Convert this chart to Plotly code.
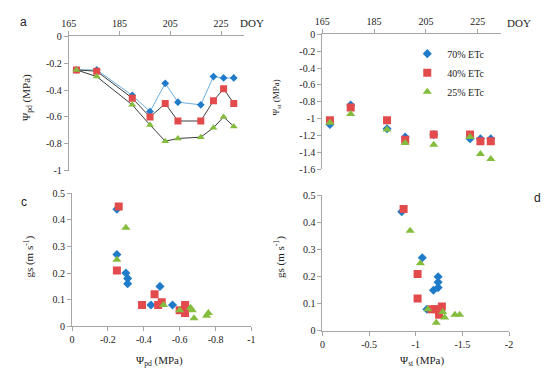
import plotly.graph_objects as go

# ---------------- data ----------------
doy_a = [168, 176, 190, 197, 203, 208, 217, 222, 226, 230]
psi_pd_70 = [-0.25, -0.25, -0.44, -0.56, -0.35, -0.49, -0.51, -0.30, -0.31, -0.31]
psi_pd_40 = [-0.25, -0.26, -0.46, -0.60, -0.50, -0.63, -0.63, -0.48, -0.39, -0.50]
psi_pd_25 = [-0.25, -0.30, -0.51, -0.66, -0.78, -0.76, -0.75, -0.68, -0.60, -0.67]

doy_b = [168, 176, 190, 197, 208, 222, 226, 230]
psi_st_70 = [-1.07, -0.84, -1.12, -1.22, -1.19, -1.24, -1.24, -1.24]
psi_st_40 = [-1.02, -0.87, -1.02, -1.25, -1.19, -1.19, -1.27, -1.27]
psi_st_25 = [-1.05, -0.945, -1.13, -1.29, -1.31, -1.22, -1.42, -1.48]

c_70_x = [-0.25, -0.25, -0.44, -0.56, -0.49, -0.30, -0.31, -0.31]
c_70_y = [0.27, 0.44, 0.08, 0.08, 0.15, 0.20, 0.18, 0.16]
c_40_x = [-0.25, -0.26, -0.46, -0.60, -0.63, -0.63, -0.48, -0.39, -0.50]
c_40_y = [0.21, 0.45, 0.12, 0.06, 0.08, 0.05, 0.08, 0.08, 0.09]
c_25_x = [-0.25, -0.30, -0.51, -0.66, -0.76, -0.75, -0.68, -0.60, -0.67]
c_25_y = [0.25, 0.37, 0.08, 0.07, 0.05, 0.04, 0.03, 0.06, 0.06]

d_70_x = [-1.07, -0.85, -1.12, -1.22, -1.19, -1.24, -1.24, -1.24]
d_70_y = [0.27, 0.44, 0.08, 0.08, 0.15, 0.20, 0.18, 0.16]
d_40_x = [-1.02, -0.87, -1.02, -1.25, -1.17, -1.21, -1.27, -1.28]
d_40_y = [0.21, 0.45, 0.12, 0.06, 0.08, 0.08, 0.08, 0.09]
d_25_x = [-1.05, -0.94, -1.13, -1.29, -1.31, -1.22, -1.42, -1.47]
d_25_y = [0.25, 0.37, 0.08, 0.07, 0.05, 0.03, 0.06, 0.06]

series_names = ["70% ETc", "40% ETc", "25% ETc"]
doy_ticks = [165, 185, 205, 225]
a_yticks = [0, -0.2, -0.4, -0.6, -0.8, -1]
b_yticks = [0, -0.2, -0.4, -0.6, -0.8, -1, -1.2, -1.4, -1.6]
c_xticks = [0, -0.2, -0.4, -0.6, -0.8, -1]
d_xticks = [0, -0.5, -1, -1.5, -2]
gs_ticks = [0, 0.1, 0.2, 0.3, 0.4, 0.5]

# ---------------- style ----------------
W, H = 550, 372
BLUE, RED, GREEN = "#1f7ac9", "#e34a4c", "#84bd3e"
LINE_BLUE, LINE_DARK = "#6aaee0", "#3c3c3c"
SERIF = "Liberation Serif, Times New Roman, DejaVu Serif, serif"
SANS = "Liberation Sans, Arial, sans-serif"
AX = "#a6a6a6"

def lbl(v):
    s = ("%g" % v)
    return s if v != 0 else "0"

def dx(a, b):
    return [a / W, b / W]

def dy(top, bottom):
    return [1 - bottom / H, 1 - top / H]

fig = go.Figure()

symbols = ["diamond", "square", "triangle-up"]
colors = [BLUE, RED, GREEN]
lcolors = [LINE_BLUE, LINE_DARK, LINE_DARK]

# panel a
for ys, name, sym, col, lc, sz in zip([psi_pd_70, psi_pd_40, psi_pd_25], series_names, symbols,
                                     colors, lcolors, [6, 7, 7]):
    fig.add_trace(go.Scatter(x=doy_a, y=ys, mode="lines+markers", name=name, showlegend=False,
                             line=dict(color=lc, width=1),
                             marker=dict(symbol=sym, color=col, size=sz, line=dict(width=0)),
                             xaxis="x", yaxis="y"))
# panel b
for ys, name, sym, col, sz in zip([psi_st_70, psi_st_40, psi_st_25], series_names, symbols,
                                  colors, [7, 8, 8]):
    fig.add_trace(go.Scatter(x=doy_b, y=ys, mode="markers", name=name, showlegend=True,
                             marker=dict(symbol=sym, color=col, size=sz, line=dict(width=0)),
                             xaxis="x2", yaxis="y2"))
# panel c
for xs, ys, name, sym, col, sz in zip([c_70_x, c_40_x, c_25_x], [c_70_y, c_40_y, c_25_y],
                                      series_names, symbols, colors, [7, 8, 8]):
    fig.add_trace(go.Scatter(x=xs, y=ys, mode="markers", name=name, showlegend=False,
                             marker=dict(symbol=sym, color=col, size=sz, line=dict(width=0)),
                             xaxis="x3", yaxis="y3"))
# panel d
for xs, ys, name, sym, col, sz in zip([d_70_x, d_40_x, d_25_x], [d_70_y, d_40_y, d_25_y],
                                      series_names, symbols, colors, [7, 8, 8]):
    fig.add_trace(go.Scatter(x=xs, y=ys, mode="markers", name=name, showlegend=False,
                             marker=dict(symbol=sym, color=col, size=sz, line=dict(width=0)),
                             xaxis="x4", yaxis="y4"))

tickfont = dict(family=SERIF, size=10, color="#222222")
common = dict(showgrid=False, zeroline=False, showline=True, linecolor=AX, linewidth=1,
              ticks="outside", ticklen=4, tickcolor=AX, tickwidth=1, tickfont=tickfont)

fig.update_layout(
    width=W, height=H, autosize=False,
    margin=dict(l=0, r=0, t=0, b=0),
    paper_bgcolor="white", plot_bgcolor="white",
    font=dict(family=SERIF, size=10, color="#222222"),
    xaxis=dict(domain=dx(54, 233), range=[165, 234], side="top", anchor="y",
               tickvals=doy_ticks, ticktext=[str(t) for t in doy_ticks], **common),
    yaxis=dict(domain=dy(23, 162), range=[-1, 0], anchor="x",
               tickvals=a_yticks, ticktext=[lbl(v) for v in a_yticks], **common),
    xaxis2=dict(domain=dx(313, 496), range=[165, 234], side="top", anchor="y2",
                tickvals=doy_ticks, ticktext=[str(t) for t in doy_ticks], **common),
    yaxis2=dict(domain=dy(21, 160.3), range=[-1.6, 0], anchor="x2",
                tickvals=b_yticks, ticktext=[lbl(v) for v in b_yticks], **common),
    xaxis3=dict(domain=dx(57.3, 240.7), range=[0, -1], anchor="y3",
                tickvals=c_xticks, ticktext=[lbl(v) for v in c_xticks], **common),
    yaxis3=dict(domain=dy(185.2, 322.7), range=[0, 0.5], anchor="x3",
                tickvals=gs_ticks, ticktext=[lbl(v) for v in gs_ticks], **common),
    xaxis4=dict(domain=dx(313.3, 504), range=[0, -2], anchor="y4",
                tickvals=d_xticks, ticktext=[lbl(v) for v in d_xticks], **common),
    yaxis4=dict(domain=dy(187.5, 327.5), range=[0, 0.5], anchor="x4",
                tickvals=gs_ticks, ticktext=[lbl(v) for v in gs_ticks], **common),
    legend=dict(x=400 / W, y=1 - 26 / H, xanchor="left", yanchor="top",
                bgcolor="rgba(0,0,0,0)", font=dict(family=SERIF, size=10, color="#222222"),
                itemwidth=30, tracegroupgap=0),
)

def ann(x, y, text, size=10, family=SERIF, angle=0, xanchor="center"):
    fig.add_annotation(x=x / W, y=1 - y / H, xref="paper", yref="paper", text=text,
                       showarrow=False, textangle=angle, xanchor=xanchor, yanchor="middle",
                       font=dict(family=family, size=size, color="#222222"))

# panel letters
ann(8, 8, "a", size=12, family=SANS)
ann(541, 18, "b", size=12, family=SANS)
ann(8, 194, "c", size=12, family=SANS)
ann(533, 190, "d", size=12, family=SANS)
# DOY labels
ann(241, 9, "DOY", size=11)
ann(514, 9, "DOY", size=11)
# axis titles
ann(11, 86, "Ψ<sub>pd</sub> (MPa)", size=11, angle=-90)
ann(266, 86, "Ψ<sub>st</sub> (MPa)", size=9, angle=-90)
ann(14, 251, "gs (m s<sup>-1</sup>)", size=11, angle=-90)
ann(270, 251, "gs (m s<sup>-1</sup>)", size=11, angle=-90)
ann(147, 359, "Ψ<sub>pd</sub> (MPa)", size=11)
ann(415, 359, "Ψ<sub>st</sub> (MPa)", size=11)

fig.write_html("out.html")
